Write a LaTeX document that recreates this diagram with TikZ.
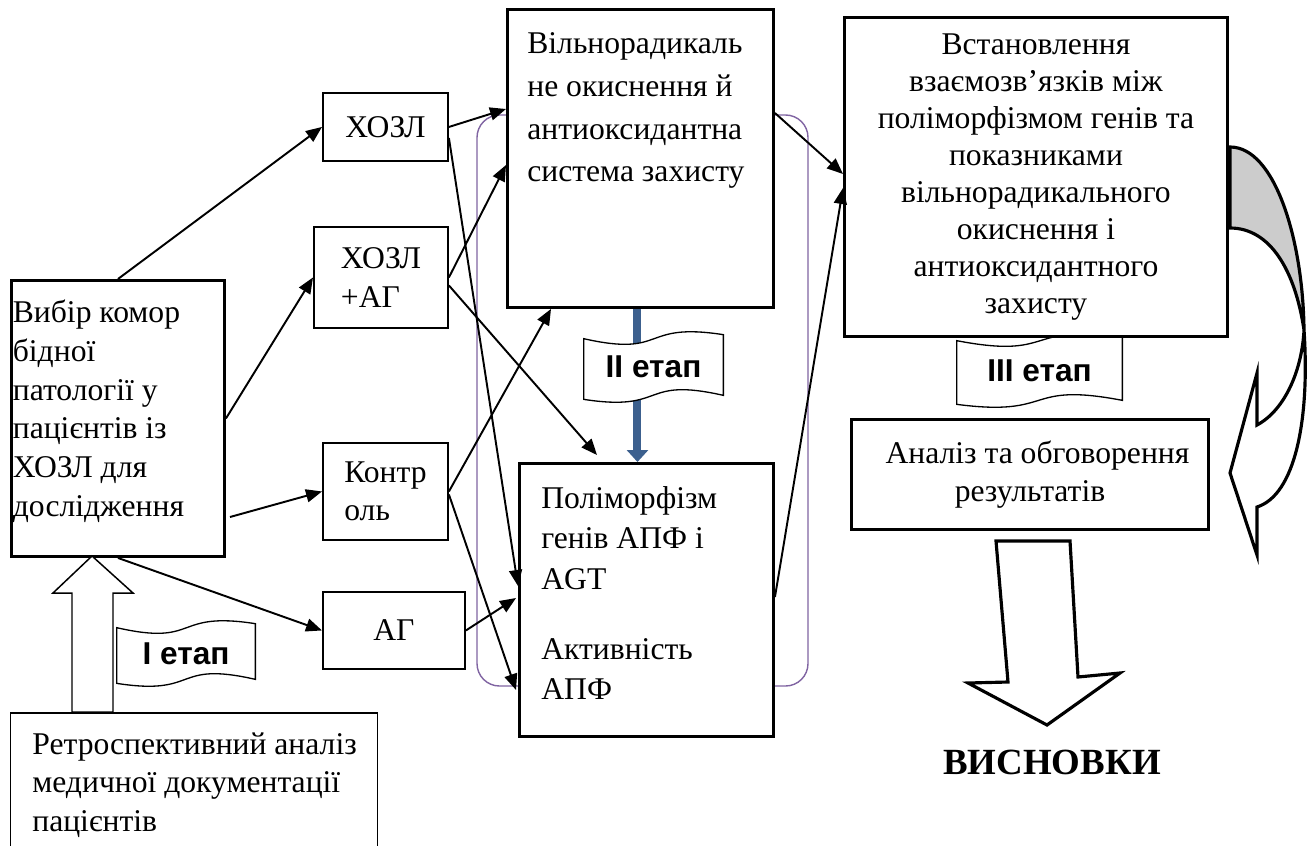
\documentclass[tikz,border=0pt]{standalone}
\usepackage{fontspec}
\setmainfont{Liberation Serif}
\newfontfamily\etapfont{Liberation Sans}
\usepackage{tikz}
\usetikzlibrary{arrows.meta, positioning, calc, backgrounds}
\definecolor{stageblue}{RGB}{60,96,142}
\definecolor{framepurple}{RGB}{128,100,162}
\definecolor{backgray}{RGB}{204,204,204}
\tikzset{
    mainbox/.style={rectangle, draw=black, line width=1.7pt, fill=white, inner sep=0pt, anchor=north west},
    groupbox/.style={rectangle, draw=black, line width=1.1pt, fill=white, inner sep=0pt,
        anchor=north west, align=left},
    notebox/.style={rectangle, draw=black, line width=0.85pt, fill=white, inner sep=0pt, anchor=north west},
    boxtext/.style={inner sep=0pt, align=left},
    etap/.style={inner sep=0pt, font=\etapfont\bfseries\fontsize{18}{21}\selectfont},
    wavebox/.style={draw=black, line width=0.75pt, fill=white},
    linkarrow/.style={-{Triangle[length=0.32cm, width=0.26cm]}, line width=1.1pt},
    stagearrow/.style={-{Triangle[length=0.24cm, width=0.42cm]}, line width=0.16cm, stageblue},
    blockarrow/.style={draw=black, line width=1.8pt, fill=white, line join=miter},
}

\begin{document}
\begin{tikzpicture}[x=0.02cm, y=-0.02cm, font=\fontsize{18}{22}\selectfont]
    \useasboundingbox (0,0) rectangle (1310,845);
    \clip (0,0) rectangle (1310,845);

    % stage I
    \node[mainbox, minimum width=4.26cm, minimum height=5.52cm] (sel) at (10,279) {};
    \node[boxtext, below right=0.42cm and 0.05cm of sel.north west] (seltxt)
        {Вибір комор\\бідної\\патології у\\пацієнтів із\\ХОЗЛ для\\дослідження};
    \node[notebox, minimum width=7.34cm, minimum height=4cm] (retro) at (10,712) {};
    \node[boxtext, below right=0.4cm and 0.44cm of retro.north west] (retrotxt)
        {Ретроспективний аналіз\\медичної документації\\пацієнтів};

    \node[groupbox, minimum width=2.5cm, minimum height=1.36cm] (hozl) at (322,92) {ХОЗЛ};
    \node[groupbox, minimum width=2.68cm, minimum height=2.02cm] (hozlag) at (313,226) {ХОЗЛ\\+АГ};
    \node[groupbox, minimum width=2.5cm, minimum height=1.94cm] (ctrl) at (322,442) {Контр\\оль};
    \node[groupbox, minimum width=2.84cm, minimum height=1.54cm] (ag) at (322,591) {АГ};

    % stage II
    \node[mainbox, minimum width=5.32cm, minimum height=5.96cm] (fro) at (506,8) {};
    \node[boxtext, font=\fontsize{18}{24.4}\selectfont, below right=0.48cm and 0.42cm of fro.north west] (frotxt)
        {Вільнорадикаль\\не окиснення й\\антиоксидантна\\система захисту};
    \node[mainbox, minimum width=5.08cm, minimum height=5.46cm] (poly) at (518,462) {};
    \node[boxtext, font=\fontsize{18}{23}\selectfont, below right=0.48cm and 0.46cm of poly.north west] (polytxt)
        {Поліморфізм\\генів АПФ і\\AGT\\[0.6cm]Активність\\АПФ};

    % stage III
    \node[mainbox, minimum width=7.66cm, minimum height=6.38cm, align=center,
        font=\fontsize{18}{21}\selectfont] (est) at (843,16)
        {Встановлення\\взаємозв’язків між\\поліморфізмом генів та\\показниками\\вільнорадикального\\окиснення і\\антиоксидантного\\захисту};
    \node[mainbox, minimum width=7.14cm, minimum height=2.2cm, align=center] (anal) at (850,418)
        {\hspace{0.3cm}Аналіз та обговорення\\результатів};
    \node[font=\bfseries\fontsize{21}{25}\selectfont] (concl) at (1052,762) {ВИСНОВКИ};

    \node[etap, minimum width=2.76cm, minimum height=1.22cm] (st1) at (186,653.5) {I етап\hspace{0.2cm}};
    \node[etap, minimum width=2.78cm, minimum height=1.32cm] (st2) at (653.5,367) {II етап};
    \node[etap, minimum width=3.3cm, minimum height=1.38cm] (st3) at (1039.5,370.5) {III етап\hspace{0.25cm}};

    % connectors
    \coordinate (selout) at (230,517);
    \draw[linkarrow] (sel.north) -- (hozl.west);
    \draw[linkarrow] (sel.east) -- (hozlag.west);
    \draw[linkarrow] (selout) -- (ctrl.west);
    \draw[linkarrow] (sel.south) -- (ag.west);

    \draw[linkarrow] (hozl.east) -- ($(fro.north west)+(0,101)$);
    \draw[linkarrow] ($(hozl.east)+(0,11)$) -- ($(poly.north west)+(0,124)$);
    \draw[linkarrow] (hozlag.east) -- ($(fro.north west)+(0,157)$);
    \draw[linkarrow] ($(hozlag.east)+(0,8)$) -- ($(poly.north west)+(79,-7)$);
    \draw[linkarrow] (ctrl.east) -- ($(fro.south west)+(45,0)$);
    \draw[linkarrow] ($(ctrl.east)+(0,3)$) -- ($(poly.north west)+(-2,228)$);
    \draw[linkarrow] (ag.east) -- ($(poly.north west)+(-2,136)$);

    \draw[linkarrow] ($(fro.north east)+(0,105)$) -- ($(est.north west)+(0,158)$);
    \draw[linkarrow] ($(poly.north east)+(0,135)$) -- ($(est.north west)+(0,172)$);

    % block arrows
    \draw[blockarrow, line width=0.85pt] (72,712) -- (72,593) -- (53,593) -- (92,556)
        -- (133,593) -- (113,593) -- (113,712) -- cycle;
    \draw[blockarrow] (996,541) -- (1070,541) -- (1078,677) -- (1120,673) -- (1047,725)
        -- (968,683) -- (1008,682) -- cycle;
    \draw[blockarrow, fill=backgray] (1230,147) .. controls (1275,147) and (1303,240) .. (1304,330)
        .. controls (1295,270) and (1270,228) .. (1230,228) -- cycle;
    \draw[blockarrow] (1304,330) .. controls (1302,370) and (1285,410) .. (1257,425)
        -- (1257,373) -- (1230,473) -- (1257,555) -- (1257,507)
        .. controls (1295,495) and (1310,420) .. (1304,330) -- cycle;

    \begin{scope}[on background layer]
        \draw[framepurple, line width=0.8pt, rounded corners=0.45cm] (477,115) rectangle (808,686);
        \coordinate (iitop) at ([xshift=-0.06cm]fro.south);
        \draw[stagearrow] (iitop) -- (iitop |- poly.north);
        \foreach \b in {st1,st2,st3}
            \draw[wavebox] ($(\b.north west)+(0,5)$)
                .. controls ($(\b.north west)!0.6!(\b.north east)+(0,24)$)
                and ($(\b.north west)!0.4!(\b.north east)+(0,-12)$) .. ($(\b.north east)+(0,1)$)
                -- ($(\b.south east)+(0,-5)$)
                .. controls ($(\b.south east)!0.6!(\b.south west)+(0,-24)$)
                and ($(\b.south east)!0.4!(\b.south west)+(0,12)$) .. ($(\b.south west)+(0,-1)$)
                -- cycle;
    \end{scope}
\end{tikzpicture}
\end{document}
